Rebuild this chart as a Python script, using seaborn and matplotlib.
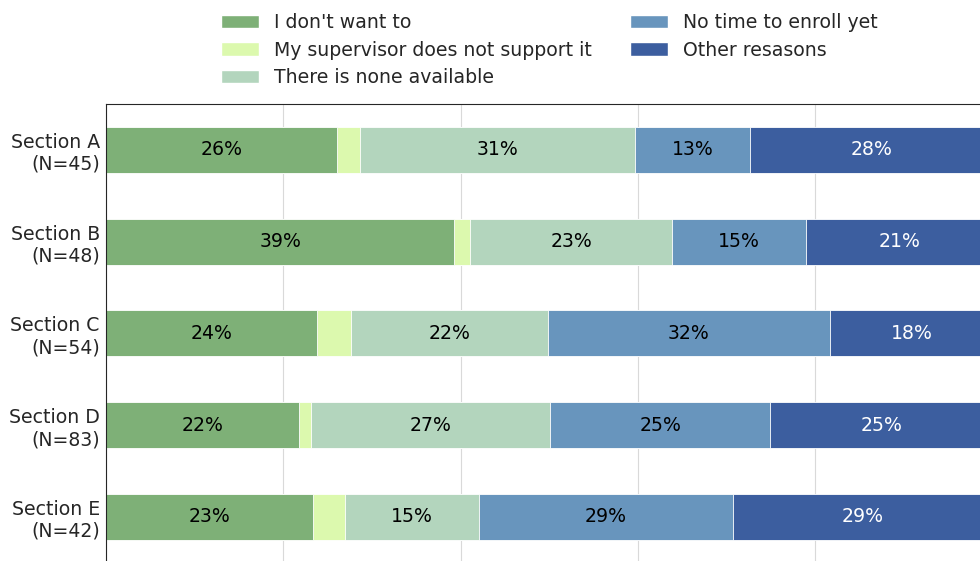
import numpy as np
import pandas as pd
import seaborn as sns
from matplotlib import pyplot as plt
from matplotlib.patches import Patch

# data (fractions of each section)
sections = ["Section A\n(N=45)", "Section B\n(N=48)", "Section C\n(N=54)",
            "Section D\n(N=83)", "Section E\n(N=42)"]
reasons = ["I don't want to", "My supervisor does not support it",
           "There is none available", "No time to enroll yet", "Other resasons"]
dont_want = [0.261, 0.393, 0.238, 0.218, 0.234]
no_support = [0.025, 0.018, 0.038, 0.013, 0.035]
none_available = [0.311, 0.227, 0.222, 0.270, 0.152]
no_time = [0.129, 0.152, 0.319, 0.248, 0.286]
other = [0.276, 0.210, 0.183, 0.251, 0.293]

colors = ["#7eb077", "#dcf9ae", "#b3d5bd", "#6895bd", "#3c5e9f"]
text_colors = ["black", "black", "black", "black", "white"]

sns.set_style("whitegrid", {"axes.edgecolor": ".15", "grid.color": ".85"})
plt.rcParams['font.family'] = ['DejaVu Sans']
plt.rcParams['font.size'] = 13.6

df = pd.DataFrame({"section": sections, reasons[0]: dont_want, reasons[1]: no_support,
                   reasons[2]: none_available, reasons[3]: no_time, reasons[4]: other})
cum = df[reasons].cumsum(axis=1)

fig = plt.figure(figsize=(9.8, 5.61), dpi=100)
ax = fig.add_axes([0.1082, -0.0031, 0.9046, 0.8177])

# stacked bars: draw cumulative totals from the longest one down
for i in range(len(reasons) - 1, -1, -1):
    sns.barplot(x=cum[reasons[i]], y=df["section"], orient="h", color=colors[i],
                saturation=1, width=0.5, edgecolor="white", linewidth=0.6, ax=ax)

# percentage labels in the middle of each segment
for i, r in enumerate(reasons):
    starts = cum[r] - df[r]
    for j, v in enumerate(df[r]):
        if v < 0.05:
            continue
        ax.text(starts[j] + v / 2, j, f"{v:.0%}", ha="center", va="center",
                color=text_colors[i], fontsize=13.6)

ax.set_xlim(0, 1)
ax.set_xticks([0, 0.2, 0.4, 0.6, 0.8, 1.0])
ax.set_xticklabels([])
ax.set_xlabel("")
ax.set_ylabel("")
ax.grid(axis="y", visible=False)
ax.tick_params(axis="y", length=0, labelsize=13.6, pad=4.5)
ax.tick_params(axis="x", length=0)

handles = [Patch(facecolor=c, label=r) for c, r in zip(colors, reasons)]
ax.legend(handles=handles, loc="lower center", bbox_to_anchor=(0.5, 1.008), ncol=2,
          frameon=False, fontsize=13.6, labelspacing=0.45, borderpad=0.2)

plt.savefig("out.png", dpi=100)
